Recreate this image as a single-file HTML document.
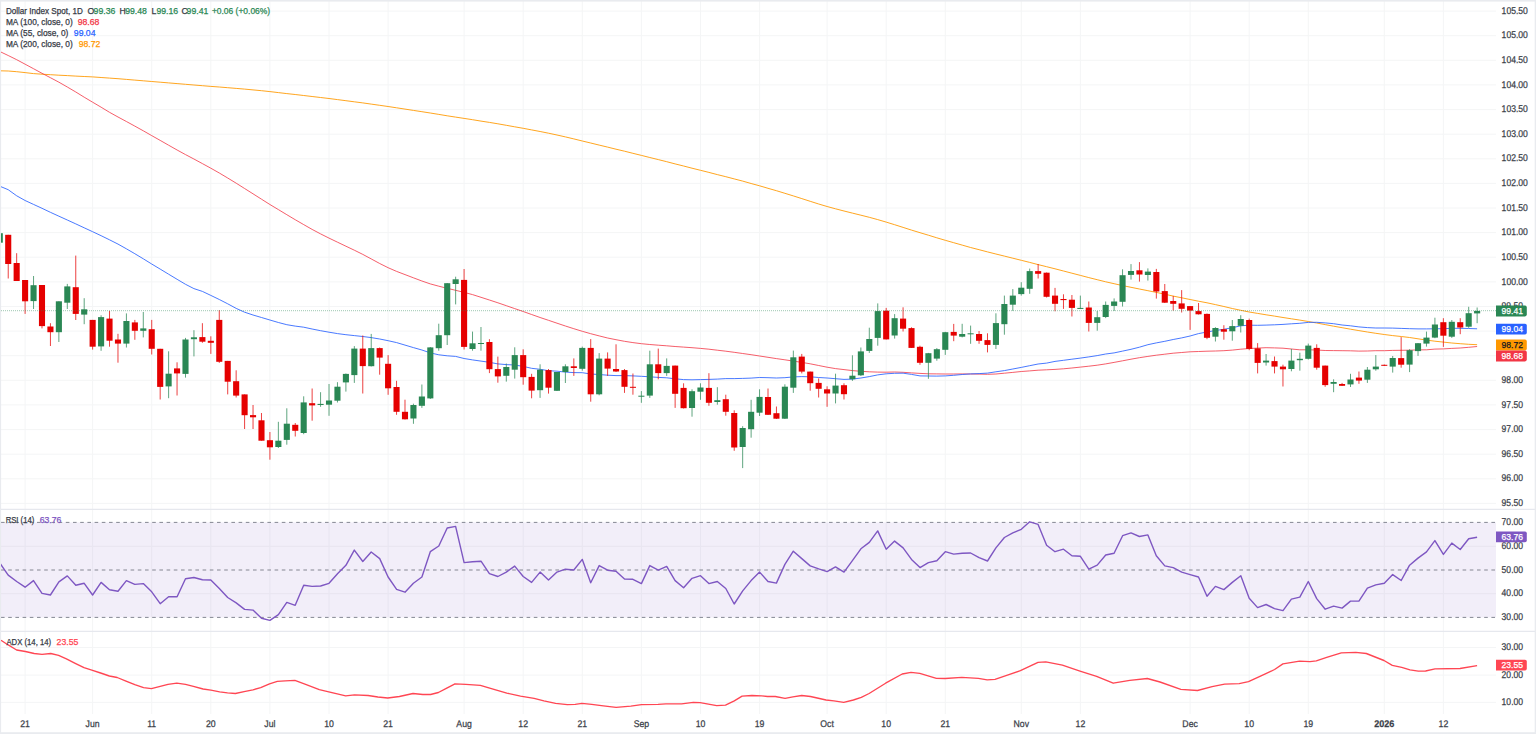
<!DOCTYPE html><html><head><meta charset="utf-8"><style>html,body{margin:0;padding:0;background:#fff;overflow:hidden}svg{display:block}text{font-family:"Liberation Sans",sans-serif}</style></head><body>
<svg width="1536" height="734" viewBox="0 0 1536 734">
<rect width="1536" height="734" fill="#fff"/>
<defs><clipPath id="cm"><rect x="1" y="1" width="1495" height="508"/></clipPath><clipPath id="cr"><rect x="1" y="510" width="1495" height="121"/></clipPath><clipPath id="ca"><rect x="1" y="632" width="1495" height="82"/></clipPath></defs>
<path d="M1 11.1H1496 M1 35.7H1496 M1 60.3H1496 M1 84.9H1496 M1 109.6H1496 M1 134.2H1496 M1 158.8H1496 M1 183.4H1496 M1 208.0H1496 M1 232.6H1496 M1 257.2H1496 M1 281.9H1496 M1 306.5H1496 M1 331.1H1496 M1 355.7H1496 M1 380.3H1496 M1 404.9H1496 M1 429.6H1496 M1 454.2H1496 M1 478.8H1496 M1 503.4H1496 M1 546.3H1496 M1 593.7H1496 M1 647.5H1496 M1 675.1H1496 M1 702.4H1496 M25.1 1V714 M92.6 1V714 M151.7 1V714 M210.8 1V714 M269.9 1V714 M329.0 1V714 M388.1 1V714 M464.1 1V714 M523.2 1V714 M582.3 1V714 M641.4 1V714 M700.5 1V714 M759.6 1V714 M827.1 1V714 M886.2 1V714 M945.3 1V714 M1021.3 1V714 M1080.4 1V714 M1190.1 1V714 M1249.2 1V714 M1308.3 1V714 M1384.3 1V714 M1443.4 1V714" stroke="#f4f5f6" stroke-width="1" fill="none"/>
<rect x="1" y="522.4" width="1495" height="95" fill="#7e57c2" fill-opacity="0.1"/>
<path d="M1 522.4H1496" stroke="#787b86" stroke-width="1" stroke-dasharray="3.6 3.6" fill="none" opacity="0.9"/>
<path d="M1 570.0H1496" stroke="#787b86" stroke-width="1" stroke-dasharray="3.6 3.6" fill="none" opacity="0.9"/>
<path d="M1 617.4H1496" stroke="#787b86" stroke-width="1" stroke-dasharray="3.6 3.6" fill="none" opacity="0.9"/>
<path d="M0 509.4H1536M0 631.4H1536" stroke="#e6e8ee" stroke-width="1.2"/>
<rect x="0" y="0" width="1536" height="1.6" fill="#e9ebef"/>
<rect x="0" y="0" width="1.1" height="734" fill="#e9ebef"/>
<rect x="1534.7" y="0" width="1.3" height="734" fill="#e9ebef"/>
<rect x="0" y="732.2" width="1536" height="1.8" fill="#e9ebef"/>
<g clip-path="url(#cm)" fill="none" stroke-linejoin="round">
<path d="M-0.2 70.8 L8.2 71.0 L16.7 71.7 L25.1 72.6 L33.5 73.6 L42.0 74.2 L50.4 74.7 L58.9 75.2 L67.3 75.6 L75.8 76.1 L84.2 76.5 L92.6 76.9 L101.1 77.5 L109.5 78.1 L118.0 78.7 L126.4 79.4 L134.8 80.1 L143.3 80.8 L151.7 81.5 L160.2 82.2 L168.6 82.9 L177.1 83.6 L185.5 84.3 L193.9 85.0 L202.4 85.7 L210.8 86.4 L219.3 87.0 L227.7 87.7 L236.2 88.4 L244.6 89.1 L253.0 89.9 L261.5 90.7 L269.9 91.6 L278.4 92.6 L286.8 93.6 L295.2 94.5 L303.7 95.5 L312.1 96.5 L320.6 97.5 L329.0 98.5 L337.5 99.6 L345.9 100.7 L354.3 101.8 L362.8 102.9 L371.2 104.1 L379.7 105.3 L388.1 106.5 L396.6 107.8 L405.0 109.1 L413.4 110.4 L421.9 111.7 L430.3 113.0 L438.8 114.4 L447.2 115.8 L455.6 117.1 L464.1 118.4 L472.5 119.7 L481.0 121.1 L489.4 122.4 L497.9 123.8 L506.3 125.3 L514.7 126.8 L523.2 128.3 L531.6 129.9 L540.1 131.5 L548.5 133.2 L557.0 135.0 L565.4 136.9 L573.8 138.9 L582.3 141.0 L590.7 143.0 L599.2 145.1 L607.6 147.1 L616.0 149.2 L624.5 151.2 L632.9 153.3 L641.4 155.4 L649.8 157.5 L658.3 159.6 L666.7 161.7 L675.1 163.9 L683.6 166.0 L692.0 168.2 L700.5 170.3 L708.9 172.4 L717.3 174.6 L725.8 176.7 L734.2 178.9 L742.7 181.1 L751.1 183.5 L759.6 185.8 L768.0 188.3 L776.4 190.7 L784.9 193.3 L793.3 195.9 L801.8 198.6 L810.2 201.3 L818.7 204.0 L827.1 206.5 L835.5 208.8 L844.0 211.0 L852.4 213.1 L860.9 215.2 L869.3 217.3 L877.7 219.6 L886.2 222.1 L894.6 224.7 L903.1 227.4 L911.5 230.1 L920.0 232.7 L928.4 235.2 L936.8 237.8 L945.3 240.3 L953.7 242.7 L962.2 245.1 L970.6 247.5 L979.1 249.7 L987.5 251.9 L995.9 254.0 L1004.4 256.1 L1012.8 258.2 L1021.3 260.3 L1029.7 262.4 L1038.1 264.6 L1046.6 266.7 L1055.0 268.8 L1063.5 271.0 L1071.9 273.2 L1080.4 275.4 L1088.8 277.6 L1097.2 279.7 L1105.7 281.8 L1114.1 283.7 L1122.6 285.6 L1131.0 287.3 L1139.4 289.0 L1147.9 290.7 L1156.3 292.4 L1164.8 294.2 L1173.2 296.1 L1181.7 297.8 L1190.1 299.5 L1198.5 301.2 L1207.0 302.8 L1215.4 304.6 L1223.9 306.5 L1232.3 308.5 L1240.8 310.3 L1249.2 312.0 L1257.6 313.4 L1266.1 314.8 L1274.5 316.1 L1283.0 317.5 L1291.4 318.8 L1299.8 320.1 L1308.3 321.5 L1316.7 323.0 L1325.2 324.6 L1333.6 326.2 L1342.1 327.7 L1350.5 329.2 L1358.9 330.6 L1367.4 332.0 L1375.8 333.3 L1384.3 334.5 L1392.7 335.6 L1401.2 336.5 L1409.6 337.5 L1418.0 338.8 L1426.5 340.1 L1434.9 341.2 L1443.4 342.1 L1451.8 343.0 L1460.2 343.7 L1468.7 344.3 L1477.1 344.7" stroke="#ff9800" stroke-width="1" opacity="0.88"/>
<path d="M-0.2 51.5 L8.2 55.5 L16.7 59.7 L25.1 64.2 L33.5 68.7 L42.0 73.3 L50.4 77.7 L58.9 82.2 L67.3 87.0 L75.8 92.0 L84.2 97.2 L92.6 102.2 L101.1 107.2 L109.5 112.3 L118.0 117.0 L126.4 121.5 L134.8 126.1 L143.3 130.8 L151.7 135.6 L160.2 140.4 L168.6 145.2 L177.1 150.0 L185.5 154.6 L193.9 159.0 L202.4 163.6 L210.8 168.2 L219.3 173.0 L227.7 178.0 L236.2 183.2 L244.6 188.5 L253.0 193.8 L261.5 199.2 L269.9 204.5 L278.4 209.6 L286.8 214.7 L295.2 219.7 L303.7 224.6 L312.1 229.4 L320.6 233.9 L329.0 238.1 L337.5 242.2 L345.9 246.2 L354.3 250.2 L362.8 254.4 L371.2 258.9 L379.7 263.5 L388.1 267.7 L396.6 271.4 L405.0 274.6 L413.4 277.8 L421.9 281.0 L430.3 283.9 L438.8 286.2 L447.2 288.3 L455.6 290.3 L464.1 292.4 L472.5 294.6 L481.0 297.3 L489.4 300.0 L497.9 302.8 L506.3 305.7 L514.7 308.6 L523.2 311.5 L531.6 314.5 L540.1 317.5 L548.5 320.3 L557.0 323.2 L565.4 326.0 L573.8 328.7 L582.3 331.3 L590.7 333.7 L599.2 335.9 L607.6 338.0 L616.0 339.7 L624.5 341.3 L632.9 342.6 L641.4 343.7 L649.8 344.5 L658.3 345.2 L666.7 345.8 L675.1 346.5 L683.6 347.1 L692.0 347.7 L700.5 348.4 L708.9 349.2 L717.3 350.2 L725.8 351.2 L734.2 352.3 L742.7 353.5 L751.1 354.7 L759.6 356.0 L768.0 357.3 L776.4 358.6 L784.9 359.8 L793.3 361.1 L801.8 362.4 L810.2 363.8 L818.7 365.5 L827.1 367.2 L835.5 368.6 L844.0 369.6 L852.4 370.6 L860.9 371.3 L869.3 371.8 L877.7 372.1 L886.2 372.2 L894.6 372.0 L903.1 372.3 L911.5 372.9 L920.0 373.4 L928.4 373.8 L936.8 373.9 L945.3 374.0 L953.7 374.0 L962.2 373.9 L970.6 374.0 L979.1 374.1 L987.5 374.3 L995.9 374.0 L1004.4 373.2 L1012.8 372.4 L1021.3 371.5 L1029.7 370.9 L1038.1 370.2 L1046.6 369.8 L1055.0 369.4 L1063.5 368.8 L1071.9 368.0 L1080.4 367.1 L1088.8 366.2 L1097.2 365.2 L1105.7 363.9 L1114.1 362.4 L1122.6 360.8 L1131.0 359.2 L1139.4 357.7 L1147.9 356.4 L1156.3 355.2 L1164.8 354.2 L1173.2 353.2 L1181.7 352.5 L1190.1 351.8 L1198.5 351.5 L1207.0 351.2 L1215.4 351.0 L1223.9 350.7 L1232.3 350.1 L1240.8 349.2 L1249.2 348.5 L1257.6 348.1 L1266.1 347.7 L1274.5 347.9 L1283.0 348.2 L1291.4 349.0 L1299.8 349.8 L1308.3 349.8 L1316.7 350.0 L1325.2 350.5 L1333.6 350.6 L1342.1 350.7 L1350.5 350.8 L1358.9 351.1 L1367.4 351.0 L1375.8 350.7 L1384.3 350.7 L1392.7 350.4 L1401.2 350.3 L1409.6 350.2 L1418.0 349.9 L1426.5 349.8 L1434.9 349.1 L1443.4 348.9 L1451.8 348.4 L1460.2 348.0 L1468.7 347.3 L1477.1 346.5" stroke="#f23645" stroke-width="1" opacity="0.8"/>
<path d="M-0.2 186.2 L8.2 189.7 L16.7 195.8 L25.1 200.5 L33.5 204.4 L42.0 208.3 L50.4 212.3 L58.9 216.2 L67.3 220.0 L75.8 223.9 L84.2 227.8 L92.6 231.7 L101.1 235.7 L109.5 239.8 L118.0 244.1 L126.4 248.8 L134.8 253.7 L143.3 258.8 L151.7 264.0 L160.2 269.1 L168.6 274.2 L177.1 279.3 L185.5 284.3 L193.9 288.6 L202.4 291.4 L210.8 295.4 L219.3 299.5 L227.7 303.8 L236.2 308.4 L244.6 312.2 L253.0 315.0 L261.5 317.5 L269.9 320.0 L278.4 322.5 L286.8 324.7 L295.2 326.1 L303.7 327.2 L312.1 329.0 L320.6 330.7 L329.0 332.2 L337.5 333.6 L345.9 334.7 L354.3 335.6 L362.8 336.5 L371.2 337.6 L379.7 339.0 L388.1 340.7 L396.6 342.6 L405.0 345.1 L413.4 347.6 L421.9 350.0 L430.3 352.9 L438.8 354.8 L447.2 355.8 L455.6 356.4 L464.1 358.5 L472.5 359.9 L481.0 361.1 L489.4 362.3 L497.9 363.9 L506.3 364.6 L514.7 365.0 L523.2 366.4 L531.6 368.3 L540.1 369.3 L548.5 370.7 L557.0 371.2 L565.4 372.1 L573.8 372.6 L582.3 372.7 L590.7 374.0 L599.2 374.5 L607.6 375.2 L616.0 375.6 L624.5 375.6 L632.9 375.9 L641.4 376.3 L649.8 376.8 L658.3 377.4 L666.7 377.8 L675.1 378.8 L683.6 379.6 L692.0 379.8 L700.5 379.6 L708.9 379.4 L717.3 379.1 L725.8 378.6 L734.2 378.6 L742.7 378.4 L751.1 378.1 L759.6 377.5 L768.0 377.7 L776.4 378.0 L784.9 377.7 L793.3 376.9 L801.8 376.6 L810.2 376.8 L818.7 377.5 L827.1 378.0 L835.5 378.7 L844.0 379.4 L852.4 379.1 L860.9 378.0 L869.3 376.6 L877.7 374.9 L886.2 373.8 L894.6 373.3 L903.1 373.2 L911.5 374.4 L920.0 375.9 L928.4 376.0 L936.8 376.1 L945.3 375.9 L953.7 375.3 L962.2 374.5 L970.6 373.9 L979.1 373.6 L987.5 373.1 L995.9 371.8 L1004.4 370.6 L1012.8 369.0 L1021.3 367.4 L1029.7 365.7 L1038.1 364.0 L1046.6 363.1 L1055.0 361.4 L1063.5 360.3 L1071.9 359.2 L1080.4 358.1 L1088.8 356.9 L1097.2 355.6 L1105.7 354.0 L1114.1 352.9 L1122.6 351.1 L1131.0 349.3 L1139.4 347.2 L1147.9 344.7 L1156.3 342.9 L1164.8 341.3 L1173.2 339.5 L1181.7 337.9 L1190.1 336.0 L1198.5 333.6 L1207.0 332.0 L1215.4 330.5 L1223.9 329.3 L1232.3 327.7 L1240.8 325.8 L1249.2 325.2 L1257.6 325.3 L1266.1 325.1 L1274.5 324.8 L1283.0 324.4 L1291.4 323.8 L1299.8 323.3 L1308.3 322.4 L1316.7 322.3 L1325.2 322.9 L1333.6 323.7 L1342.1 325.0 L1350.5 325.8 L1358.9 326.9 L1367.4 327.6 L1375.8 328.0 L1384.3 328.0 L1392.7 328.1 L1401.2 328.4 L1409.6 328.7 L1418.0 328.9 L1426.5 328.9 L1434.9 328.8 L1443.4 328.7 L1451.8 328.3 L1460.2 328.3 L1468.7 328.5 L1477.1 328.8" stroke="#2962ff" stroke-width="1" opacity="0.85"/>
</g>
<g clip-path="url(#cm)">
<path d="M-0.22 231.0V245.0" stroke="#2a8754" stroke-width="0.75"/>
<rect x="-3.27" y="233.2" width="6.1" height="9.5" fill="#2a8754"/>
<path d="M8.22 234.8V278.5" stroke="#e50000" stroke-width="0.75"/>
<rect x="5.17" y="234.8" width="6.1" height="29.2" fill="#e50000"/>
<path d="M16.66 253.2V281.0" stroke="#e50000" stroke-width="0.75"/>
<rect x="13.61" y="263.0" width="6.1" height="18.0" fill="#e50000"/>
<path d="M25.10 280.0V313.9" stroke="#e50000" stroke-width="0.75"/>
<rect x="22.05" y="280.0" width="6.1" height="21.3" fill="#e50000"/>
<path d="M33.55 276.0V309.0" stroke="#2a8754" stroke-width="0.75"/>
<rect x="30.50" y="285.2" width="6.1" height="15.9" fill="#2a8754"/>
<path d="M41.99 285.0V328.4" stroke="#e50000" stroke-width="0.75"/>
<rect x="38.94" y="285.0" width="6.1" height="41.1" fill="#e50000"/>
<path d="M50.43 323.2V346.0" stroke="#e50000" stroke-width="0.75"/>
<rect x="47.38" y="326.5" width="6.1" height="5.7" fill="#e50000"/>
<path d="M58.87 301.3V342.0" stroke="#2a8754" stroke-width="0.75"/>
<rect x="55.82" y="301.3" width="6.1" height="30.9" fill="#2a8754"/>
<path d="M67.31 283.9V309.0" stroke="#2a8754" stroke-width="0.75"/>
<rect x="64.26" y="286.4" width="6.1" height="16.3" fill="#2a8754"/>
<path d="M75.76 255.6V320.0" stroke="#e50000" stroke-width="0.75"/>
<rect x="72.71" y="287.2" width="6.1" height="26.7" fill="#e50000"/>
<path d="M84.20 298.2V324.2" stroke="#2a8754" stroke-width="0.75"/>
<rect x="81.15" y="309.3" width="6.1" height="5.3" fill="#2a8754"/>
<path d="M92.64 319.9V349.6" stroke="#e50000" stroke-width="0.75"/>
<rect x="89.59" y="319.9" width="6.1" height="26.8" fill="#e50000"/>
<path d="M101.08 315.3V350.8" stroke="#2a8754" stroke-width="0.75"/>
<rect x="98.03" y="317.1" width="6.1" height="29.3" fill="#2a8754"/>
<path d="M109.52 310.9V346.7" stroke="#e50000" stroke-width="0.75"/>
<rect x="106.47" y="318.6" width="6.1" height="22.1" fill="#e50000"/>
<path d="M117.97 333.8V362.7" stroke="#e50000" stroke-width="0.75"/>
<rect x="114.92" y="339.5" width="6.1" height="4.1" fill="#e50000"/>
<path d="M126.41 313.4V347.5" stroke="#2a8754" stroke-width="0.75"/>
<rect x="123.36" y="321.0" width="6.1" height="22.6" fill="#2a8754"/>
<path d="M134.85 319.9V339.8" stroke="#e50000" stroke-width="0.75"/>
<rect x="131.80" y="322.4" width="6.1" height="8.4" fill="#e50000"/>
<path d="M143.29 312.0V337.4" stroke="#2a8754" stroke-width="0.75"/>
<rect x="140.24" y="328.4" width="6.1" height="2.4" fill="#2a8754"/>
<path d="M151.73 319.9V354.5" stroke="#e50000" stroke-width="0.75"/>
<rect x="148.68" y="329.2" width="6.1" height="19.6" fill="#e50000"/>
<path d="M160.18 348.8V399.5" stroke="#e50000" stroke-width="0.75"/>
<rect x="157.13" y="348.8" width="6.1" height="38.1" fill="#e50000"/>
<path d="M168.62 351.3V398.2" stroke="#2a8754" stroke-width="0.75"/>
<rect x="165.57" y="373.7" width="6.1" height="12.7" fill="#2a8754"/>
<path d="M177.06 362.3V395.5" stroke="#e50000" stroke-width="0.75"/>
<rect x="174.01" y="368.4" width="6.1" height="5.0" fill="#e50000"/>
<path d="M185.50 337.9V377.6" stroke="#2a8754" stroke-width="0.75"/>
<rect x="182.45" y="339.5" width="6.1" height="34.4" fill="#2a8754"/>
<path d="M193.94 330.2V356.4" stroke="#2a8754" stroke-width="0.75"/>
<rect x="190.89" y="337.3" width="6.1" height="1.9" fill="#2a8754"/>
<path d="M202.39 323.2V342.8" stroke="#e50000" stroke-width="0.75"/>
<rect x="199.34" y="337.1" width="6.1" height="4.6" fill="#e50000"/>
<path d="M210.83 336.3V353.9" stroke="#e50000" stroke-width="0.75"/>
<rect x="207.78" y="340.8" width="6.1" height="2.0" fill="#e50000"/>
<path d="M219.27 310.1V362.9" stroke="#e50000" stroke-width="0.75"/>
<rect x="216.22" y="319.9" width="6.1" height="41.9" fill="#e50000"/>
<path d="M227.71 360.9V394.4" stroke="#e50000" stroke-width="0.75"/>
<rect x="224.66" y="360.9" width="6.1" height="20.8" fill="#e50000"/>
<path d="M236.15 370.3V397.5" stroke="#e50000" stroke-width="0.75"/>
<rect x="233.10" y="381.2" width="6.1" height="14.4" fill="#e50000"/>
<path d="M244.60 394.4V429.0" stroke="#e50000" stroke-width="0.75"/>
<rect x="241.55" y="394.4" width="6.1" height="20.8" fill="#e50000"/>
<path d="M253.04 405.0V429.0" stroke="#e50000" stroke-width="0.75"/>
<rect x="249.99" y="415.1" width="6.1" height="2.2" fill="#e50000"/>
<path d="M261.48 413.0V440.7" stroke="#e50000" stroke-width="0.75"/>
<rect x="258.43" y="420.3" width="6.1" height="20.4" fill="#e50000"/>
<path d="M269.92 432.0V459.7" stroke="#e50000" stroke-width="0.75"/>
<rect x="266.87" y="440.2" width="6.1" height="7.1" fill="#e50000"/>
<path d="M278.36 421.8V448.0" stroke="#2a8754" stroke-width="0.75"/>
<rect x="275.31" y="440.7" width="6.1" height="6.3" fill="#2a8754"/>
<path d="M286.81 408.3V444.7" stroke="#2a8754" stroke-width="0.75"/>
<rect x="283.76" y="423.7" width="6.1" height="16.2" fill="#2a8754"/>
<path d="M295.25 423.0V436.5" stroke="#e50000" stroke-width="0.75"/>
<rect x="292.20" y="424.8" width="6.1" height="6.0" fill="#e50000"/>
<path d="M303.69 396.3V434.2" stroke="#2a8754" stroke-width="0.75"/>
<rect x="300.64" y="402.4" width="6.1" height="30.6" fill="#2a8754"/>
<path d="M312.13 388.5V420.7" stroke="#e50000" stroke-width="0.75"/>
<rect x="309.08" y="403.2" width="6.1" height="2.2" fill="#e50000"/>
<path d="M320.57 392.2V406.8" stroke="#2a8754" stroke-width="0.75"/>
<rect x="317.52" y="403.9" width="6.1" height="1.1" fill="#2a8754"/>
<path d="M329.02 384.0V415.8" stroke="#2a8754" stroke-width="0.75"/>
<rect x="325.97" y="400.5" width="6.1" height="4.2" fill="#2a8754"/>
<path d="M337.46 382.2V402.5" stroke="#2a8754" stroke-width="0.75"/>
<rect x="334.41" y="386.7" width="6.1" height="14.0" fill="#2a8754"/>
<path d="M345.90 373.5V391.6" stroke="#2a8754" stroke-width="0.75"/>
<rect x="342.85" y="373.9" width="6.1" height="8.5" fill="#2a8754"/>
<path d="M354.34 346.1V382.9" stroke="#2a8754" stroke-width="0.75"/>
<rect x="351.29" y="348.6" width="6.1" height="26.5" fill="#2a8754"/>
<path d="M362.78 335.5V393.5" stroke="#e50000" stroke-width="0.75"/>
<rect x="359.73" y="348.6" width="6.1" height="17.5" fill="#e50000"/>
<path d="M371.23 333.9V366.5" stroke="#2a8754" stroke-width="0.75"/>
<rect x="368.18" y="348.1" width="6.1" height="18.1" fill="#2a8754"/>
<path d="M379.67 347.5V374.7" stroke="#e50000" stroke-width="0.75"/>
<rect x="376.62" y="348.1" width="6.1" height="9.5" fill="#e50000"/>
<path d="M388.11 355.1V394.8" stroke="#e50000" stroke-width="0.75"/>
<rect x="385.06" y="363.8" width="6.1" height="24.5" fill="#e50000"/>
<path d="M396.55 380.8V414.8" stroke="#e50000" stroke-width="0.75"/>
<rect x="393.50" y="387.0" width="6.1" height="24.8" fill="#e50000"/>
<path d="M404.99 399.7V419.5" stroke="#e50000" stroke-width="0.75"/>
<rect x="401.94" y="411.8" width="6.1" height="7.5" fill="#e50000"/>
<path d="M413.44 403.7V423.8" stroke="#2a8754" stroke-width="0.75"/>
<rect x="410.39" y="405.0" width="6.1" height="13.5" fill="#2a8754"/>
<path d="M421.88 384.5V407.9" stroke="#2a8754" stroke-width="0.75"/>
<rect x="418.83" y="396.5" width="6.1" height="9.3" fill="#2a8754"/>
<path d="M430.32 347.0V399.0" stroke="#2a8754" stroke-width="0.75"/>
<rect x="427.27" y="347.4" width="6.1" height="51.0" fill="#2a8754"/>
<path d="M438.76 323.7V350.7" stroke="#2a8754" stroke-width="0.75"/>
<rect x="435.71" y="335.2" width="6.1" height="13.0" fill="#2a8754"/>
<path d="M447.20 283.0V345.0" stroke="#2a8754" stroke-width="0.75"/>
<rect x="444.15" y="283.2" width="6.1" height="52.0" fill="#2a8754"/>
<path d="M455.65 276.7V304.4" stroke="#2a8754" stroke-width="0.75"/>
<rect x="452.60" y="279.3" width="6.1" height="4.7" fill="#2a8754"/>
<path d="M464.09 269.0V349.5" stroke="#e50000" stroke-width="0.75"/>
<rect x="461.04" y="279.9" width="6.1" height="67.0" fill="#e50000"/>
<path d="M472.53 331.6V350.7" stroke="#2a8754" stroke-width="0.75"/>
<rect x="469.48" y="343.3" width="6.1" height="5.7" fill="#2a8754"/>
<path d="M480.97 327.0V350.7" stroke="#2a8754" stroke-width="0.75"/>
<rect x="477.92" y="343.0" width="6.1" height="1.0" fill="#2a8754"/>
<path d="M489.41 339.2V373.1" stroke="#e50000" stroke-width="0.75"/>
<rect x="486.36" y="342.0" width="6.1" height="27.2" fill="#e50000"/>
<path d="M497.86 356.6V382.7" stroke="#e50000" stroke-width="0.75"/>
<rect x="494.81" y="369.1" width="6.1" height="7.3" fill="#e50000"/>
<path d="M506.30 363.5V381.6" stroke="#2a8754" stroke-width="0.75"/>
<rect x="503.25" y="367.0" width="6.1" height="8.8" fill="#2a8754"/>
<path d="M514.74 347.3V378.6" stroke="#2a8754" stroke-width="0.75"/>
<rect x="511.69" y="355.1" width="6.1" height="14.6" fill="#2a8754"/>
<path d="M523.18 349.3V384.7" stroke="#e50000" stroke-width="0.75"/>
<rect x="520.13" y="355.1" width="6.1" height="22.1" fill="#e50000"/>
<path d="M531.62 373.8V398.3" stroke="#e50000" stroke-width="0.75"/>
<rect x="528.57" y="376.9" width="6.1" height="13.7" fill="#e50000"/>
<path d="M540.07 364.3V397.9" stroke="#2a8754" stroke-width="0.75"/>
<rect x="537.02" y="369.7" width="6.1" height="20.5" fill="#2a8754"/>
<path d="M548.51 369.0V393.6" stroke="#e50000" stroke-width="0.75"/>
<rect x="545.46" y="370.1" width="6.1" height="17.6" fill="#e50000"/>
<path d="M556.95 372.0V391.0" stroke="#2a8754" stroke-width="0.75"/>
<rect x="553.90" y="372.0" width="6.1" height="18.8" fill="#2a8754"/>
<path d="M565.39 364.3V383.0" stroke="#2a8754" stroke-width="0.75"/>
<rect x="562.34" y="366.3" width="6.1" height="5.7" fill="#2a8754"/>
<path d="M573.83 358.4V375.9" stroke="#e50000" stroke-width="0.75"/>
<rect x="570.78" y="366.3" width="6.1" height="1.7" fill="#e50000"/>
<path d="M582.28 346.6V370.7" stroke="#2a8754" stroke-width="0.75"/>
<rect x="579.23" y="347.9" width="6.1" height="20.9" fill="#2a8754"/>
<path d="M590.72 339.1V401.7" stroke="#e50000" stroke-width="0.75"/>
<rect x="587.67" y="347.9" width="6.1" height="46.4" fill="#e50000"/>
<path d="M599.16 353.1V395.3" stroke="#2a8754" stroke-width="0.75"/>
<rect x="596.11" y="358.6" width="6.1" height="35.7" fill="#2a8754"/>
<path d="M607.60 352.4V375.9" stroke="#e50000" stroke-width="0.75"/>
<rect x="604.55" y="358.6" width="6.1" height="10.0" fill="#e50000"/>
<path d="M616.04 344.3V372.0" stroke="#e50000" stroke-width="0.75"/>
<rect x="612.99" y="369.0" width="6.1" height="2.5" fill="#e50000"/>
<path d="M624.49 369.0V392.9" stroke="#e50000" stroke-width="0.75"/>
<rect x="621.44" y="370.1" width="6.1" height="16.7" fill="#e50000"/>
<path d="M632.93 373.5V394.7" stroke="#e50000" stroke-width="0.75"/>
<rect x="629.88" y="386.8" width="6.1" height="1.0" fill="#e50000"/>
<path d="M641.37 391.1V402.8" stroke="#2a8754" stroke-width="0.75"/>
<rect x="638.32" y="395.7" width="6.1" height="1.0" fill="#2a8754"/>
<path d="M649.81 350.7V397.9" stroke="#2a8754" stroke-width="0.75"/>
<rect x="646.76" y="364.3" width="6.1" height="31.3" fill="#2a8754"/>
<path d="M658.25 348.6V379.3" stroke="#e50000" stroke-width="0.75"/>
<rect x="655.20" y="364.3" width="6.1" height="8.8" fill="#e50000"/>
<path d="M666.70 358.4V375.9" stroke="#2a8754" stroke-width="0.75"/>
<rect x="663.65" y="365.9" width="6.1" height="7.2" fill="#2a8754"/>
<path d="M675.14 365.6V407.9" stroke="#e50000" stroke-width="0.75"/>
<rect x="672.09" y="365.6" width="6.1" height="28.2" fill="#e50000"/>
<path d="M683.58 383.3V408.5" stroke="#e50000" stroke-width="0.75"/>
<rect x="680.53" y="387.9" width="6.1" height="20.3" fill="#e50000"/>
<path d="M692.02 389.3V416.7" stroke="#2a8754" stroke-width="0.75"/>
<rect x="688.97" y="391.2" width="6.1" height="16.8" fill="#2a8754"/>
<path d="M700.46 383.3V399.8" stroke="#2a8754" stroke-width="0.75"/>
<rect x="697.41" y="387.5" width="6.1" height="4.2" fill="#2a8754"/>
<path d="M708.91 373.2V405.8" stroke="#e50000" stroke-width="0.75"/>
<rect x="705.86" y="387.9" width="6.1" height="14.9" fill="#e50000"/>
<path d="M717.35 387.2V404.7" stroke="#2a8754" stroke-width="0.75"/>
<rect x="714.30" y="400.2" width="6.1" height="1.8" fill="#2a8754"/>
<path d="M725.79 394.7V415.7" stroke="#e50000" stroke-width="0.75"/>
<rect x="722.74" y="399.2" width="6.1" height="12.6" fill="#e50000"/>
<path d="M734.23 410.3V450.8" stroke="#e50000" stroke-width="0.75"/>
<rect x="731.18" y="413.0" width="6.1" height="34.5" fill="#e50000"/>
<path d="M742.67 426.2V468.1" stroke="#2a8754" stroke-width="0.75"/>
<rect x="739.62" y="428.0" width="6.1" height="19.0" fill="#2a8754"/>
<path d="M751.12 399.8V437.7" stroke="#2a8754" stroke-width="0.75"/>
<rect x="748.07" y="411.8" width="6.1" height="17.4" fill="#2a8754"/>
<path d="M759.56 389.3V416.0" stroke="#2a8754" stroke-width="0.75"/>
<rect x="756.51" y="396.9" width="6.1" height="15.8" fill="#2a8754"/>
<path d="M768.00 388.5V415.0" stroke="#e50000" stroke-width="0.75"/>
<rect x="764.95" y="397.0" width="6.1" height="17.8" fill="#e50000"/>
<path d="M776.44 406.5V419.0" stroke="#e50000" stroke-width="0.75"/>
<rect x="773.39" y="413.2" width="6.1" height="5.5" fill="#e50000"/>
<path d="M784.88 384.3V419.0" stroke="#2a8754" stroke-width="0.75"/>
<rect x="781.83" y="386.7" width="6.1" height="32.0" fill="#2a8754"/>
<path d="M793.33 350.6V392.9" stroke="#2a8754" stroke-width="0.75"/>
<rect x="790.28" y="357.3" width="6.1" height="30.4" fill="#2a8754"/>
<path d="M801.77 353.9V373.4" stroke="#e50000" stroke-width="0.75"/>
<rect x="798.72" y="356.6" width="6.1" height="15.0" fill="#e50000"/>
<path d="M810.21 371.6V390.7" stroke="#e50000" stroke-width="0.75"/>
<rect x="807.16" y="371.6" width="6.1" height="11.6" fill="#e50000"/>
<path d="M818.65 378.4V397.5" stroke="#e50000" stroke-width="0.75"/>
<rect x="815.60" y="382.9" width="6.1" height="5.9" fill="#e50000"/>
<path d="M827.09 386.3V406.8" stroke="#e50000" stroke-width="0.75"/>
<rect x="824.04" y="389.3" width="6.1" height="4.2" fill="#e50000"/>
<path d="M835.54 373.7V403.4" stroke="#2a8754" stroke-width="0.75"/>
<rect x="832.49" y="385.6" width="6.1" height="7.9" fill="#2a8754"/>
<path d="M843.98 383.3V399.5" stroke="#e50000" stroke-width="0.75"/>
<rect x="840.93" y="385.2" width="6.1" height="9.0" fill="#e50000"/>
<path d="M852.42 355.3V380.9" stroke="#2a8754" stroke-width="0.75"/>
<rect x="849.37" y="375.7" width="6.1" height="3.5" fill="#2a8754"/>
<path d="M860.86 347.5V376.0" stroke="#2a8754" stroke-width="0.75"/>
<rect x="857.81" y="351.4" width="6.1" height="23.9" fill="#2a8754"/>
<path d="M869.30 327.7V352.9" stroke="#2a8754" stroke-width="0.75"/>
<rect x="866.25" y="339.0" width="6.1" height="11.9" fill="#2a8754"/>
<path d="M877.75 303.4V345.7" stroke="#2a8754" stroke-width="0.75"/>
<rect x="874.70" y="311.1" width="6.1" height="26.8" fill="#2a8754"/>
<path d="M886.19 307.9V339.5" stroke="#e50000" stroke-width="0.75"/>
<rect x="883.14" y="310.7" width="6.1" height="28.7" fill="#e50000"/>
<path d="M894.63 314.1V338.6" stroke="#2a8754" stroke-width="0.75"/>
<rect x="891.58" y="318.2" width="6.1" height="17.3" fill="#2a8754"/>
<path d="M903.07 307.3V331.5" stroke="#e50000" stroke-width="0.75"/>
<rect x="900.02" y="318.6" width="6.1" height="10.1" fill="#e50000"/>
<path d="M911.51 327.3V348.0" stroke="#e50000" stroke-width="0.75"/>
<rect x="908.46" y="328.1" width="6.1" height="19.8" fill="#e50000"/>
<path d="M919.96 345.7V364.8" stroke="#e50000" stroke-width="0.75"/>
<rect x="916.91" y="346.8" width="6.1" height="16.0" fill="#e50000"/>
<path d="M928.40 352.9V378.8" stroke="#2a8754" stroke-width="0.75"/>
<rect x="925.35" y="353.2" width="6.1" height="9.6" fill="#2a8754"/>
<path d="M936.84 348.1V360.7" stroke="#2a8754" stroke-width="0.75"/>
<rect x="933.79" y="349.2" width="6.1" height="9.4" fill="#2a8754"/>
<path d="M945.28 331.8V354.9" stroke="#2a8754" stroke-width="0.75"/>
<rect x="942.23" y="332.2" width="6.1" height="17.6" fill="#2a8754"/>
<path d="M953.72 323.9V341.2" stroke="#e50000" stroke-width="0.75"/>
<rect x="950.67" y="331.9" width="6.1" height="3.7" fill="#e50000"/>
<path d="M962.17 323.8V337.4" stroke="#2a8754" stroke-width="0.75"/>
<rect x="959.12" y="334.0" width="6.1" height="2.7" fill="#2a8754"/>
<path d="M970.61 325.6V343.8" stroke="#2a8754" stroke-width="0.75"/>
<rect x="967.56" y="333.3" width="6.1" height="1.0" fill="#2a8754"/>
<path d="M979.05 331.0V343.8" stroke="#e50000" stroke-width="0.75"/>
<rect x="976.00" y="334.0" width="6.1" height="6.8" fill="#e50000"/>
<path d="M987.49 333.3V352.4" stroke="#e50000" stroke-width="0.75"/>
<rect x="984.44" y="340.1" width="6.1" height="4.8" fill="#e50000"/>
<path d="M995.93 313.3V349.0" stroke="#2a8754" stroke-width="0.75"/>
<rect x="992.88" y="323.1" width="6.1" height="21.8" fill="#2a8754"/>
<path d="M1004.38 295.6V334.7" stroke="#2a8754" stroke-width="0.75"/>
<rect x="1001.33" y="304.0" width="6.1" height="20.2" fill="#2a8754"/>
<path d="M1012.82 289.1V310.9" stroke="#2a8754" stroke-width="0.75"/>
<rect x="1009.77" y="295.6" width="6.1" height="9.1" fill="#2a8754"/>
<path d="M1021.26 282.2V295.6" stroke="#2a8754" stroke-width="0.75"/>
<rect x="1018.21" y="287.7" width="6.1" height="6.4" fill="#2a8754"/>
<path d="M1029.70 268.6V293.8" stroke="#2a8754" stroke-width="0.75"/>
<rect x="1026.65" y="271.1" width="6.1" height="17.7" fill="#2a8754"/>
<path d="M1038.14 264.0V278.5" stroke="#e50000" stroke-width="0.75"/>
<rect x="1035.09" y="271.1" width="6.1" height="2.7" fill="#e50000"/>
<path d="M1046.59 272.5V297.5" stroke="#e50000" stroke-width="0.75"/>
<rect x="1043.54" y="272.7" width="6.1" height="24.1" fill="#e50000"/>
<path d="M1055.03 287.9V311.3" stroke="#e50000" stroke-width="0.75"/>
<rect x="1051.98" y="295.6" width="6.1" height="8.2" fill="#e50000"/>
<path d="M1063.47 294.3V308.9" stroke="#e50000" stroke-width="0.75"/>
<rect x="1060.42" y="299.0" width="6.1" height="1.1" fill="#e50000"/>
<path d="M1071.91 295.0V316.5" stroke="#e50000" stroke-width="0.75"/>
<rect x="1068.86" y="299.7" width="6.1" height="8.2" fill="#e50000"/>
<path d="M1080.35 295.6V309.0" stroke="#2a8754" stroke-width="0.75"/>
<rect x="1077.30" y="307.9" width="6.1" height="1.0" fill="#2a8754"/>
<path d="M1088.80 301.5V331.5" stroke="#e50000" stroke-width="0.75"/>
<rect x="1085.75" y="307.5" width="6.1" height="15.4" fill="#e50000"/>
<path d="M1097.24 311.0V330.7" stroke="#2a8754" stroke-width="0.75"/>
<rect x="1094.19" y="317.2" width="6.1" height="5.7" fill="#2a8754"/>
<path d="M1105.68 301.5V318.1" stroke="#2a8754" stroke-width="0.75"/>
<rect x="1102.63" y="304.9" width="6.1" height="12.1" fill="#2a8754"/>
<path d="M1114.12 298.4V311.0" stroke="#2a8754" stroke-width="0.75"/>
<rect x="1111.07" y="301.5" width="6.1" height="4.4" fill="#2a8754"/>
<path d="M1122.56 269.3V306.5" stroke="#2a8754" stroke-width="0.75"/>
<rect x="1119.51" y="275.2" width="6.1" height="26.6" fill="#2a8754"/>
<path d="M1131.01 264.1V279.6" stroke="#2a8754" stroke-width="0.75"/>
<rect x="1127.96" y="271.0" width="6.1" height="3.9" fill="#2a8754"/>
<path d="M1139.45 262.1V281.6" stroke="#e50000" stroke-width="0.75"/>
<rect x="1136.40" y="270.3" width="6.1" height="4.2" fill="#e50000"/>
<path d="M1147.89 268.4V280.6" stroke="#2a8754" stroke-width="0.75"/>
<rect x="1144.84" y="271.6" width="6.1" height="3.4" fill="#2a8754"/>
<path d="M1156.33 268.9V298.6" stroke="#e50000" stroke-width="0.75"/>
<rect x="1153.28" y="272.0" width="6.1" height="19.5" fill="#e50000"/>
<path d="M1164.77 284.0V303.0" stroke="#e50000" stroke-width="0.75"/>
<rect x="1161.72" y="291.1" width="6.1" height="11.6" fill="#e50000"/>
<path d="M1173.22 295.9V310.6" stroke="#e50000" stroke-width="0.75"/>
<rect x="1170.17" y="301.0" width="6.1" height="2.8" fill="#e50000"/>
<path d="M1181.66 290.1V312.5" stroke="#e50000" stroke-width="0.75"/>
<rect x="1178.61" y="303.4" width="6.1" height="5.4" fill="#e50000"/>
<path d="M1190.10 306.0V329.9" stroke="#e50000" stroke-width="0.75"/>
<rect x="1187.05" y="306.1" width="6.1" height="4.5" fill="#e50000"/>
<path d="M1198.54 303.0V314.5" stroke="#e50000" stroke-width="0.75"/>
<rect x="1195.49" y="311.1" width="6.1" height="3.2" fill="#e50000"/>
<path d="M1206.98 313.5V339.2" stroke="#e50000" stroke-width="0.75"/>
<rect x="1203.93" y="313.9" width="6.1" height="23.9" fill="#e50000"/>
<path d="M1215.43 327.2V341.5" stroke="#2a8754" stroke-width="0.75"/>
<rect x="1212.38" y="328.0" width="6.1" height="8.7" fill="#2a8754"/>
<path d="M1223.87 325.2V339.7" stroke="#e50000" stroke-width="0.75"/>
<rect x="1220.82" y="329.2" width="6.1" height="2.5" fill="#e50000"/>
<path d="M1232.31 320.0V340.7" stroke="#2a8754" stroke-width="0.75"/>
<rect x="1229.26" y="326.1" width="6.1" height="5.2" fill="#2a8754"/>
<path d="M1240.75 315.2V332.5" stroke="#2a8754" stroke-width="0.75"/>
<rect x="1237.70" y="319.0" width="6.1" height="6.8" fill="#2a8754"/>
<path d="M1249.19 318.6V350.2" stroke="#e50000" stroke-width="0.75"/>
<rect x="1246.14" y="320.0" width="6.1" height="28.9" fill="#e50000"/>
<path d="M1257.64 343.1V373.4" stroke="#e50000" stroke-width="0.75"/>
<rect x="1254.59" y="348.3" width="6.1" height="14.6" fill="#e50000"/>
<path d="M1266.08 354.0V365.6" stroke="#2a8754" stroke-width="0.75"/>
<rect x="1263.03" y="360.6" width="6.1" height="1.9" fill="#2a8754"/>
<path d="M1274.52 356.5V373.4" stroke="#e50000" stroke-width="0.75"/>
<rect x="1271.47" y="361.1" width="6.1" height="5.5" fill="#e50000"/>
<path d="M1282.96 364.7V386.5" stroke="#e50000" stroke-width="0.75"/>
<rect x="1279.91" y="366.6" width="6.1" height="2.7" fill="#e50000"/>
<path d="M1291.40 348.9V371.3" stroke="#2a8754" stroke-width="0.75"/>
<rect x="1288.35" y="360.6" width="6.1" height="8.4" fill="#2a8754"/>
<path d="M1299.85 352.7V370.7" stroke="#2a8754" stroke-width="0.75"/>
<rect x="1296.80" y="358.8" width="6.1" height="1.4" fill="#2a8754"/>
<path d="M1308.29 343.6V359.5" stroke="#2a8754" stroke-width="0.75"/>
<rect x="1305.24" y="345.6" width="6.1" height="13.2" fill="#2a8754"/>
<path d="M1316.73 344.3V369.7" stroke="#e50000" stroke-width="0.75"/>
<rect x="1313.68" y="347.9" width="6.1" height="19.8" fill="#e50000"/>
<path d="M1325.17 365.6V386.8" stroke="#e50000" stroke-width="0.75"/>
<rect x="1322.12" y="365.6" width="6.1" height="19.5" fill="#e50000"/>
<path d="M1333.61 379.3V392.2" stroke="#2a8754" stroke-width="0.75"/>
<rect x="1330.56" y="382.0" width="6.1" height="1.8" fill="#2a8754"/>
<path d="M1342.06 382.9V386.0" stroke="#e50000" stroke-width="0.75"/>
<rect x="1339.01" y="384.0" width="6.1" height="1.8" fill="#e50000"/>
<path d="M1350.50 373.8V387.0" stroke="#2a8754" stroke-width="0.75"/>
<rect x="1347.45" y="379.5" width="6.1" height="4.9" fill="#2a8754"/>
<path d="M1358.94 371.5V383.8" stroke="#e50000" stroke-width="0.75"/>
<rect x="1355.89" y="377.6" width="6.1" height="3.0" fill="#e50000"/>
<path d="M1367.38 367.0V382.9" stroke="#2a8754" stroke-width="0.75"/>
<rect x="1364.33" y="369.7" width="6.1" height="10.0" fill="#2a8754"/>
<path d="M1375.82 355.1V370.7" stroke="#2a8754" stroke-width="0.75"/>
<rect x="1372.77" y="366.6" width="6.1" height="2.7" fill="#2a8754"/>
<path d="M1384.27 364.5V366.0" stroke="#e50000" stroke-width="0.75"/>
<rect x="1381.22" y="364.8" width="6.1" height="1.0" fill="#e50000"/>
<path d="M1392.71 356.0V372.6" stroke="#2a8754" stroke-width="0.75"/>
<rect x="1389.66" y="358.0" width="6.1" height="8.6" fill="#2a8754"/>
<path d="M1401.15 337.1V367.7" stroke="#e50000" stroke-width="0.75"/>
<rect x="1398.10" y="358.1" width="6.1" height="6.6" fill="#e50000"/>
<path d="M1409.59 349.2V372.1" stroke="#2a8754" stroke-width="0.75"/>
<rect x="1406.54" y="350.2" width="6.1" height="14.4" fill="#2a8754"/>
<path d="M1418.03 343.0V355.9" stroke="#2a8754" stroke-width="0.75"/>
<rect x="1414.98" y="343.2" width="6.1" height="7.9" fill="#2a8754"/>
<path d="M1426.48 331.6V346.6" stroke="#2a8754" stroke-width="0.75"/>
<rect x="1423.43" y="337.6" width="6.1" height="6.0" fill="#2a8754"/>
<path d="M1434.92 317.7V338.2" stroke="#2a8754" stroke-width="0.75"/>
<rect x="1431.87" y="324.5" width="6.1" height="13.1" fill="#2a8754"/>
<path d="M1443.36 318.2V346.9" stroke="#e50000" stroke-width="0.75"/>
<rect x="1440.31" y="322.2" width="6.1" height="13.5" fill="#e50000"/>
<path d="M1451.80 320.0V337.9" stroke="#2a8754" stroke-width="0.75"/>
<rect x="1448.75" y="321.8" width="6.1" height="14.9" fill="#2a8754"/>
<path d="M1460.24 318.2V334.2" stroke="#e50000" stroke-width="0.75"/>
<rect x="1457.19" y="322.2" width="6.1" height="5.3" fill="#e50000"/>
<path d="M1468.69 306.8V327.8" stroke="#2a8754" stroke-width="0.75"/>
<rect x="1465.64" y="313.2" width="6.1" height="13.5" fill="#2a8754"/>
<path d="M1477.13 307.5V323.2" stroke="#2a8754" stroke-width="0.75"/>
<rect x="1474.08" y="310.9" width="6.1" height="2.5" fill="#2a8754"/>
</g>
<path d="M1 310.7H1496" stroke="#2a8754" stroke-width="1" stroke-dasharray="1 1" opacity="0.45"/>
<path clip-path="url(#cr)" d="M-0.2 563.0 L8.2 575.1 L16.7 581.5 L25.1 587.2 L33.5 580.6 L42.0 593.4 L50.4 595.0 L58.9 581.9 L67.3 575.9 L75.8 585.2 L84.2 583.3 L92.6 595.0 L101.1 582.4 L109.5 589.8 L118.0 591.3 L126.4 580.6 L134.8 584.4 L143.3 583.6 L151.7 591.8 L160.2 603.7 L168.6 596.7 L177.1 596.7 L185.5 578.7 L193.9 577.5 L202.4 579.8 L210.8 580.0 L219.3 588.5 L227.7 597.5 L236.2 602.9 L244.6 609.4 L253.0 610.1 L261.5 618.2 L269.9 620.4 L278.4 614.6 L286.8 602.4 L295.2 605.3 L303.7 585.2 L312.1 586.4 L320.6 586.0 L329.0 583.3 L337.5 573.8 L345.9 565.3 L354.3 550.1 L362.8 561.5 L371.2 552.0 L379.7 558.6 L388.1 577.0 L396.6 589.3 L405.0 592.2 L413.4 583.3 L421.9 577.0 L430.3 551.7 L438.8 546.0 L447.2 528.0 L455.6 526.4 L464.1 562.6 L472.5 561.7 L481.0 561.2 L489.4 573.6 L497.9 576.5 L506.3 572.1 L514.7 566.1 L523.2 576.5 L531.6 582.4 L540.1 572.1 L548.5 580.0 L557.0 572.1 L565.4 569.2 L573.8 570.0 L582.3 559.4 L590.7 582.8 L599.2 565.6 L607.6 570.2 L616.0 571.3 L624.5 579.0 L632.9 579.3 L641.4 583.6 L649.8 565.6 L658.3 570.2 L666.7 566.4 L675.1 580.6 L683.6 587.8 L692.0 578.3 L700.5 575.7 L708.9 583.6 L717.3 581.5 L725.8 588.5 L734.2 604.0 L742.7 590.9 L751.1 580.6 L759.6 572.1 L768.0 581.5 L776.4 583.1 L784.9 564.4 L793.3 551.2 L801.8 558.6 L810.2 565.9 L818.7 568.9 L827.1 571.6 L835.5 566.9 L844.0 572.1 L852.4 560.7 L860.9 548.8 L869.3 542.4 L877.7 530.9 L886.2 549.2 L894.6 541.1 L903.1 547.9 L911.5 559.4 L920.0 567.6 L928.4 562.6 L936.8 560.7 L945.3 551.7 L953.7 554.1 L962.2 553.3 L970.6 553.0 L979.1 557.7 L987.5 561.0 L995.9 547.9 L1004.4 537.5 L1012.8 532.9 L1021.3 529.3 L1029.7 521.8 L1038.1 524.4 L1046.6 545.2 L1055.0 551.7 L1063.5 549.2 L1071.9 555.8 L1080.4 556.3 L1088.8 569.2 L1097.2 565.1 L1105.7 555.0 L1114.1 553.3 L1122.6 535.7 L1131.0 532.9 L1139.4 536.5 L1147.9 534.9 L1156.3 555.8 L1164.8 565.9 L1173.2 567.6 L1181.7 572.1 L1190.1 574.6 L1198.5 577.0 L1207.0 596.3 L1215.4 586.4 L1223.9 589.6 L1232.3 582.4 L1240.8 575.7 L1249.2 598.3 L1257.6 607.6 L1266.1 604.5 L1274.5 608.6 L1283.0 610.6 L1291.4 599.1 L1299.8 597.1 L1308.3 581.5 L1316.7 598.6 L1325.2 609.2 L1333.6 606.1 L1342.1 608.1 L1350.5 601.1 L1358.9 601.1 L1367.4 588.2 L1375.8 584.9 L1384.3 583.3 L1392.7 574.6 L1401.2 580.5 L1409.6 565.2 L1418.0 558.1 L1426.5 551.9 L1434.9 540.6 L1443.4 554.4 L1451.8 543.1 L1460.2 549.5 L1468.7 538.7 L1477.1 537.3" stroke="#7e57c2" stroke-width="1.4" fill="none" stroke-linejoin="round"/>
<path clip-path="url(#ca)" d="M1.0 640.2 L7.8 644.7 L16.6 650.0 L25.4 651.5 L34.2 653.5 L42.0 654.3 L50.8 653.5 L58.6 655.4 L66.4 658.8 L75.2 663.3 L84.0 667.7 L91.8 670.1 L100.6 673.0 L109.4 676.0 L117.2 677.5 L126.0 681.2 L134.8 684.7 L143.6 687.7 L151.4 688.6 L160.2 686.3 L168.0 684.3 L176.8 683.2 L185.5 684.3 L193.4 686.3 L203.1 689.0 L210.9 690.2 L219.7 691.8 L227.5 692.9 L235.4 693.5 L244.1 691.6 L252.9 689.8 L260.7 687.7 L269.5 683.8 L277.3 681.4 L285.2 680.8 L294.9 680.4 L305.6 684.3 L319.3 689.6 L333.0 692.9 L345.7 695.9 L354.5 694.9 L368.1 695.5 L377.9 697.0 L387.7 698.0 L399.4 696.5 L413.0 693.5 L422.8 694.5 L430.6 694.5 L438.4 692.5 L446.3 688.3 L455.0 683.8 L465.8 684.3 L480.4 685.3 L493.1 689.2 L506.8 693.1 L520.5 696.1 L534.1 698.4 L543.9 700.8 L555.6 703.3 L567.3 704.7 L575.2 704.3 L582.0 703.3 L591.7 704.3 L603.4 705.8 L616.1 707.4 L630.8 706.2 L641.5 704.7 L658.1 704.3 L665.9 703.9 L681.6 703.9 L693.3 702.3 L700.1 702.7 L716.7 705.6 L725.5 705.2 L734.3 700.8 L742.1 696.1 L751.9 695.5 L761.6 695.9 L767.5 696.5 L775.3 696.5 L785.1 698.4 L792.9 696.8 L801.7 695.5 L810.5 696.5 L826.1 700.0 L833.9 700.9 L843.7 702.3 L853.4 700.0 L861.3 697.4 L869.1 693.5 L885.6 683.2 L902.2 674.0 L911.0 672.4 L919.8 673.4 L936.4 678.3 L945.2 678.5 L961.8 677.3 L978.4 678.3 L987.2 679.9 L995.0 679.3 L1006.7 675.4 L1020.4 670.7 L1038.0 662.3 L1045.8 661.9 L1062.4 665.2 L1080.0 671.1 L1096.6 676.3 L1113.2 683.2 L1129.8 680.4 L1147.3 678.5 L1160.0 682.0 L1180.8 689.3 L1197.5 690.5 L1212.1 686.6 L1224.6 684.1 L1239.2 683.7 L1248.5 681.6 L1262.1 675.3 L1274.6 669.5 L1282.9 663.9 L1299.6 661.2 L1310.0 661.6 L1316.3 660.8 L1326.7 657.4 L1341.3 652.8 L1355.8 652.4 L1366.3 653.5 L1384.0 660.5 L1392.3 665.3 L1401.7 667.4 L1410.0 669.9 L1418.3 671.2 L1425.6 671.0 L1435.0 668.9 L1460.0 668.5 L1477.1 665.6" stroke="#ff4653" stroke-width="1.35" fill="none" stroke-linejoin="round"/>
<text x="1501.6" y="13.7" fill="#3a3e48" stroke="#3a3e48" stroke-width="0.25" font-size="9.8" text-anchor="start" font-weight="normal" textLength="26.3" lengthAdjust="spacingAndGlyphs" text-rendering="geometricPrecision">105.50</text>
<text x="1501.6" y="38.3" fill="#3a3e48" stroke="#3a3e48" stroke-width="0.25" font-size="9.8" text-anchor="start" font-weight="normal" textLength="26.3" lengthAdjust="spacingAndGlyphs" text-rendering="geometricPrecision">105.00</text>
<text x="1501.6" y="62.9" fill="#3a3e48" stroke="#3a3e48" stroke-width="0.25" font-size="9.8" text-anchor="start" font-weight="normal" textLength="26.3" lengthAdjust="spacingAndGlyphs" text-rendering="geometricPrecision">104.50</text>
<text x="1501.6" y="87.5" fill="#3a3e48" stroke="#3a3e48" stroke-width="0.25" font-size="9.8" text-anchor="start" font-weight="normal" textLength="26.3" lengthAdjust="spacingAndGlyphs" text-rendering="geometricPrecision">104.00</text>
<text x="1501.6" y="112.2" fill="#3a3e48" stroke="#3a3e48" stroke-width="0.25" font-size="9.8" text-anchor="start" font-weight="normal" textLength="26.3" lengthAdjust="spacingAndGlyphs" text-rendering="geometricPrecision">103.50</text>
<text x="1501.6" y="136.8" fill="#3a3e48" stroke="#3a3e48" stroke-width="0.25" font-size="9.8" text-anchor="start" font-weight="normal" textLength="26.3" lengthAdjust="spacingAndGlyphs" text-rendering="geometricPrecision">103.00</text>
<text x="1501.6" y="161.4" fill="#3a3e48" stroke="#3a3e48" stroke-width="0.25" font-size="9.8" text-anchor="start" font-weight="normal" textLength="26.3" lengthAdjust="spacingAndGlyphs" text-rendering="geometricPrecision">102.50</text>
<text x="1501.6" y="186.0" fill="#3a3e48" stroke="#3a3e48" stroke-width="0.25" font-size="9.8" text-anchor="start" font-weight="normal" textLength="26.3" lengthAdjust="spacingAndGlyphs" text-rendering="geometricPrecision">102.00</text>
<text x="1501.6" y="210.6" fill="#3a3e48" stroke="#3a3e48" stroke-width="0.25" font-size="9.8" text-anchor="start" font-weight="normal" textLength="26.3" lengthAdjust="spacingAndGlyphs" text-rendering="geometricPrecision">101.50</text>
<text x="1501.6" y="235.2" fill="#3a3e48" stroke="#3a3e48" stroke-width="0.25" font-size="9.8" text-anchor="start" font-weight="normal" textLength="26.3" lengthAdjust="spacingAndGlyphs" text-rendering="geometricPrecision">101.00</text>
<text x="1501.6" y="259.9" fill="#3a3e48" stroke="#3a3e48" stroke-width="0.25" font-size="9.8" text-anchor="start" font-weight="normal" textLength="26.3" lengthAdjust="spacingAndGlyphs" text-rendering="geometricPrecision">100.50</text>
<text x="1501.6" y="284.5" fill="#3a3e48" stroke="#3a3e48" stroke-width="0.25" font-size="9.8" text-anchor="start" font-weight="normal" textLength="26.3" lengthAdjust="spacingAndGlyphs" text-rendering="geometricPrecision">100.00</text>
<text x="1501.6" y="309.1" fill="#3a3e48" stroke="#3a3e48" stroke-width="0.25" font-size="9.8" text-anchor="start" font-weight="normal" textLength="21.5" lengthAdjust="spacingAndGlyphs" text-rendering="geometricPrecision">99.50</text>
<text x="1501.6" y="382.9" fill="#3a3e48" stroke="#3a3e48" stroke-width="0.25" font-size="9.8" text-anchor="start" font-weight="normal" textLength="21.5" lengthAdjust="spacingAndGlyphs" text-rendering="geometricPrecision">98.00</text>
<text x="1501.6" y="407.5" fill="#3a3e48" stroke="#3a3e48" stroke-width="0.25" font-size="9.8" text-anchor="start" font-weight="normal" textLength="21.5" lengthAdjust="spacingAndGlyphs" text-rendering="geometricPrecision">97.50</text>
<text x="1501.6" y="432.2" fill="#3a3e48" stroke="#3a3e48" stroke-width="0.25" font-size="9.8" text-anchor="start" font-weight="normal" textLength="21.5" lengthAdjust="spacingAndGlyphs" text-rendering="geometricPrecision">97.00</text>
<text x="1501.6" y="456.8" fill="#3a3e48" stroke="#3a3e48" stroke-width="0.25" font-size="9.8" text-anchor="start" font-weight="normal" textLength="21.5" lengthAdjust="spacingAndGlyphs" text-rendering="geometricPrecision">96.50</text>
<text x="1501.6" y="481.4" fill="#3a3e48" stroke="#3a3e48" stroke-width="0.25" font-size="9.8" text-anchor="start" font-weight="normal" textLength="21.5" lengthAdjust="spacingAndGlyphs" text-rendering="geometricPrecision">96.00</text>
<text x="1501.6" y="506.0" fill="#3a3e48" stroke="#3a3e48" stroke-width="0.25" font-size="9.8" text-anchor="start" font-weight="normal" textLength="21.5" lengthAdjust="spacingAndGlyphs" text-rendering="geometricPrecision">95.50</text>
<text x="1501.6" y="525.0" fill="#3a3e48" stroke="#3a3e48" stroke-width="0.25" font-size="9.8" text-anchor="start" font-weight="normal" textLength="21.5" lengthAdjust="spacingAndGlyphs" text-rendering="geometricPrecision">70.00</text>
<text x="1501.6" y="548.9" fill="#3a3e48" stroke="#3a3e48" stroke-width="0.25" font-size="9.8" text-anchor="start" font-weight="normal" textLength="21.5" lengthAdjust="spacingAndGlyphs" text-rendering="geometricPrecision">60.00</text>
<text x="1501.6" y="572.6" fill="#3a3e48" stroke="#3a3e48" stroke-width="0.25" font-size="9.8" text-anchor="start" font-weight="normal" textLength="21.5" lengthAdjust="spacingAndGlyphs" text-rendering="geometricPrecision">50.00</text>
<text x="1501.6" y="596.3" fill="#3a3e48" stroke="#3a3e48" stroke-width="0.25" font-size="9.8" text-anchor="start" font-weight="normal" textLength="21.5" lengthAdjust="spacingAndGlyphs" text-rendering="geometricPrecision">40.00</text>
<text x="1501.6" y="620.0" fill="#3a3e48" stroke="#3a3e48" stroke-width="0.25" font-size="9.8" text-anchor="start" font-weight="normal" textLength="21.5" lengthAdjust="spacingAndGlyphs" text-rendering="geometricPrecision">30.00</text>
<text x="1501.6" y="650.1" fill="#3a3e48" stroke="#3a3e48" stroke-width="0.25" font-size="9.8" text-anchor="start" font-weight="normal" textLength="21.5" lengthAdjust="spacingAndGlyphs" text-rendering="geometricPrecision">30.00</text>
<text x="1501.6" y="677.7" fill="#3a3e48" stroke="#3a3e48" stroke-width="0.25" font-size="9.8" text-anchor="start" font-weight="normal" textLength="21.5" lengthAdjust="spacingAndGlyphs" text-rendering="geometricPrecision">20.00</text>
<text x="1501.6" y="705.0" fill="#3a3e48" stroke="#3a3e48" stroke-width="0.25" font-size="9.8" text-anchor="start" font-weight="normal" textLength="21.5" lengthAdjust="spacingAndGlyphs" text-rendering="geometricPrecision">10.00</text>
<path d="M1496.0 305.6H1525.0Q1526.8 305.6 1526.8 307.40000000000003V314.59999999999997Q1526.8 316.4 1525.0 316.4H1496.0Z" fill="#2a8754"/>
<text x="1501.6" y="314.0" fill="#fff" stroke="#fff" stroke-width="0.25" font-size="8.7" text-anchor="start" font-weight="normal" textLength="21.4" lengthAdjust="spacingAndGlyphs">99.41</text>
<path d="M1496.0 323.8H1525.0Q1526.8 323.8 1526.8 325.6V332.8Q1526.8 334.6 1525.0 334.6H1496.0Z" fill="#2962ff"/>
<text x="1501.6" y="332.2" fill="#fff" stroke="#fff" stroke-width="0.25" font-size="8.7" text-anchor="start" font-weight="normal" textLength="21.4" lengthAdjust="spacingAndGlyphs">99.04</text>
<path d="M1496.0 339.6H1525.0Q1526.8 339.6 1526.8 341.40000000000003V348.8Q1526.8 350.6 1525.0 350.6H1496.0Z" fill="#ff9800"/>
<text x="1501.6" y="348.1" fill="#131722" stroke="#131722" stroke-width="0.25" font-size="8.7" text-anchor="start" font-weight="normal" textLength="21.4" lengthAdjust="spacingAndGlyphs">98.72</text>
<path d="M1496.0 350.6H1525.0Q1526.8 350.6 1526.8 352.40000000000003V359.59999999999997Q1526.8 361.4 1525.0 361.4H1496.0Z" fill="#f23645"/>
<text x="1501.6" y="359.0" fill="#fff" stroke="#fff" stroke-width="0.25" font-size="8.7" text-anchor="start" font-weight="normal" textLength="21.4" lengthAdjust="spacingAndGlyphs">98.68</text>
<path d="M1496.0 531.4H1525.0Q1526.8 531.4 1526.8 533.1999999999999V540.5Q1526.8 542.3 1525.0 542.3H1496.0Z" fill="#7e57c2"/>
<text x="1501.6" y="539.8" fill="#fff" stroke="#fff" stroke-width="0.25" font-size="8.7" text-anchor="start" font-weight="normal" textLength="21.4" lengthAdjust="spacingAndGlyphs">63.76</text>
<path d="M1496.0 659.8H1525.0Q1526.8 659.8 1526.8 661.5999999999999V668.8000000000001Q1526.8 670.6 1525.0 670.6H1496.0Z" fill="#ff4653"/>
<text x="1501.6" y="668.2" fill="#fff" stroke="#fff" stroke-width="0.25" font-size="8.7" text-anchor="start" font-weight="normal" textLength="21.4" lengthAdjust="spacingAndGlyphs">23.55</text>
<text x="25.1" y="727.3" fill="#3a3e48" stroke="#3a3e48" stroke-width="0.25" font-size="9.6" text-anchor="middle" font-weight="normal" textLength="9.7" lengthAdjust="spacingAndGlyphs" text-rendering="geometricPrecision">21</text>
<text x="92.6" y="727.3" fill="#3a3e48" stroke="#3a3e48" stroke-width="0.25" font-size="9.6" text-anchor="middle" font-weight="normal" textLength="14.0" lengthAdjust="spacingAndGlyphs" text-rendering="geometricPrecision">Jun</text>
<text x="151.7" y="727.3" fill="#3a3e48" stroke="#3a3e48" stroke-width="0.25" font-size="9.6" text-anchor="middle" font-weight="normal" textLength="9.0" lengthAdjust="spacingAndGlyphs" text-rendering="geometricPrecision">11</text>
<text x="210.8" y="727.3" fill="#3a3e48" stroke="#3a3e48" stroke-width="0.25" font-size="9.6" text-anchor="middle" font-weight="normal" textLength="9.7" lengthAdjust="spacingAndGlyphs" text-rendering="geometricPrecision">20</text>
<text x="269.9" y="727.3" fill="#3a3e48" stroke="#3a3e48" stroke-width="0.25" font-size="9.6" text-anchor="middle" font-weight="normal" textLength="11.1" lengthAdjust="spacingAndGlyphs" text-rendering="geometricPrecision">Jul</text>
<text x="329.0" y="727.3" fill="#3a3e48" stroke="#3a3e48" stroke-width="0.25" font-size="9.6" text-anchor="middle" font-weight="normal" textLength="9.7" lengthAdjust="spacingAndGlyphs" text-rendering="geometricPrecision">10</text>
<text x="388.1" y="727.3" fill="#3a3e48" stroke="#3a3e48" stroke-width="0.25" font-size="9.6" text-anchor="middle" font-weight="normal" textLength="9.7" lengthAdjust="spacingAndGlyphs" text-rendering="geometricPrecision">21</text>
<text x="464.1" y="727.3" fill="#3a3e48" stroke="#3a3e48" stroke-width="0.25" font-size="9.6" text-anchor="middle" font-weight="normal" textLength="15.5" lengthAdjust="spacingAndGlyphs" text-rendering="geometricPrecision">Aug</text>
<text x="523.2" y="727.3" fill="#3a3e48" stroke="#3a3e48" stroke-width="0.25" font-size="9.6" text-anchor="middle" font-weight="normal" textLength="9.7" lengthAdjust="spacingAndGlyphs" text-rendering="geometricPrecision">12</text>
<text x="582.3" y="727.3" fill="#3a3e48" stroke="#3a3e48" stroke-width="0.25" font-size="9.6" text-anchor="middle" font-weight="normal" textLength="9.7" lengthAdjust="spacingAndGlyphs" text-rendering="geometricPrecision">21</text>
<text x="641.4" y="727.3" fill="#3a3e48" stroke="#3a3e48" stroke-width="0.25" font-size="9.6" text-anchor="middle" font-weight="normal" textLength="15.5" lengthAdjust="spacingAndGlyphs" text-rendering="geometricPrecision">Sep</text>
<text x="700.5" y="727.3" fill="#3a3e48" stroke="#3a3e48" stroke-width="0.25" font-size="9.6" text-anchor="middle" font-weight="normal" textLength="9.7" lengthAdjust="spacingAndGlyphs" text-rendering="geometricPrecision">10</text>
<text x="759.6" y="727.3" fill="#3a3e48" stroke="#3a3e48" stroke-width="0.25" font-size="9.6" text-anchor="middle" font-weight="normal" textLength="9.7" lengthAdjust="spacingAndGlyphs" text-rendering="geometricPrecision">19</text>
<text x="827.1" y="727.3" fill="#3a3e48" stroke="#3a3e48" stroke-width="0.25" font-size="9.6" text-anchor="middle" font-weight="normal" textLength="13.5" lengthAdjust="spacingAndGlyphs" text-rendering="geometricPrecision">Oct</text>
<text x="886.2" y="727.3" fill="#3a3e48" stroke="#3a3e48" stroke-width="0.25" font-size="9.6" text-anchor="middle" font-weight="normal" textLength="9.7" lengthAdjust="spacingAndGlyphs" text-rendering="geometricPrecision">10</text>
<text x="945.3" y="727.3" fill="#3a3e48" stroke="#3a3e48" stroke-width="0.25" font-size="9.6" text-anchor="middle" font-weight="normal" textLength="9.7" lengthAdjust="spacingAndGlyphs" text-rendering="geometricPrecision">21</text>
<text x="1021.3" y="727.3" fill="#3a3e48" stroke="#3a3e48" stroke-width="0.25" font-size="9.6" text-anchor="middle" font-weight="normal" textLength="15.5" lengthAdjust="spacingAndGlyphs" text-rendering="geometricPrecision">Nov</text>
<text x="1080.4" y="727.3" fill="#3a3e48" stroke="#3a3e48" stroke-width="0.25" font-size="9.6" text-anchor="middle" font-weight="normal" textLength="9.7" lengthAdjust="spacingAndGlyphs" text-rendering="geometricPrecision">12</text>
<text x="1190.1" y="727.3" fill="#3a3e48" stroke="#3a3e48" stroke-width="0.25" font-size="9.6" text-anchor="middle" font-weight="normal" textLength="15.5" lengthAdjust="spacingAndGlyphs" text-rendering="geometricPrecision">Dec</text>
<text x="1249.2" y="727.3" fill="#3a3e48" stroke="#3a3e48" stroke-width="0.25" font-size="9.6" text-anchor="middle" font-weight="normal" textLength="9.7" lengthAdjust="spacingAndGlyphs" text-rendering="geometricPrecision">10</text>
<text x="1308.3" y="727.3" fill="#3a3e48" stroke="#3a3e48" stroke-width="0.25" font-size="9.6" text-anchor="middle" font-weight="normal" textLength="9.7" lengthAdjust="spacingAndGlyphs" text-rendering="geometricPrecision">19</text>
<text x="1384.3" y="727.3" fill="#3a3e48" stroke="#3a3e48" stroke-width="0.25" font-size="9.6" text-anchor="middle" font-weight="bold" textLength="20.1" lengthAdjust="spacingAndGlyphs" text-rendering="geometricPrecision">2026</text>
<text x="1443.4" y="727.3" fill="#3a3e48" stroke="#3a3e48" stroke-width="0.25" font-size="9.6" text-anchor="middle" font-weight="normal" textLength="9.7" lengthAdjust="spacingAndGlyphs" text-rendering="geometricPrecision">12</text>
<text x="5.9" y="13.8" fill="#363a45" stroke="#363a45" stroke-width="0.25" font-size="8.7" text-anchor="start" font-weight="normal" textLength="77" lengthAdjust="spacingAndGlyphs">Dollar Index Spot, 1D</text>
<text x="87.6" y="13.8" fill="#363a45" stroke="#363a45" stroke-width="0.25" font-size="8.7" text-anchor="start" font-weight="normal" >O</text>
<text x="93.6" y="13.8" fill="#2a8754" stroke="#2a8754" stroke-width="0.25" font-size="8.7" text-anchor="start" font-weight="normal" >99.36</text>
<text x="119.6" y="13.8" fill="#363a45" stroke="#363a45" stroke-width="0.25" font-size="8.7" text-anchor="start" font-weight="normal" >H</text>
<text x="125.2" y="13.8" fill="#2a8754" stroke="#2a8754" stroke-width="0.25" font-size="8.7" text-anchor="start" font-weight="normal" >99.48</text>
<text x="151.6" y="13.8" fill="#363a45" stroke="#363a45" stroke-width="0.25" font-size="8.7" text-anchor="start" font-weight="normal" >L</text>
<text x="156.4" y="13.8" fill="#2a8754" stroke="#2a8754" stroke-width="0.25" font-size="8.7" text-anchor="start" font-weight="normal" >99.16</text>
<text x="181.4" y="13.8" fill="#363a45" stroke="#363a45" stroke-width="0.25" font-size="8.7" text-anchor="start" font-weight="normal" >C</text>
<text x="186.6" y="13.8" fill="#2a8754" stroke="#2a8754" stroke-width="0.25" font-size="8.7" text-anchor="start" font-weight="normal" >99.41</text>
<text x="211.9" y="13.8" fill="#2a8754" stroke="#2a8754" stroke-width="0.25" font-size="8.7" text-anchor="start" font-weight="normal" textLength="58.2" lengthAdjust="spacingAndGlyphs">+0.06 (+0.06%)</text>
<text x="5.9" y="25.0" fill="#363a45" stroke="#363a45" stroke-width="0.25" font-size="8.7" text-anchor="start" font-weight="normal" textLength="66.8" lengthAdjust="spacingAndGlyphs">MA (100, close, 0)</text>
<text x="77.7" y="25.0" fill="#f23645" stroke="#f23645" stroke-width="0.25" font-size="8.7" text-anchor="start" font-weight="normal" >98.68</text>
<text x="5.9" y="36.2" fill="#363a45" stroke="#363a45" stroke-width="0.25" font-size="8.7" text-anchor="start" font-weight="normal" textLength="62.5" lengthAdjust="spacingAndGlyphs">MA (55, close, 0)</text>
<text x="73.8" y="36.2" fill="#2962ff" stroke="#2962ff" stroke-width="0.25" font-size="8.7" text-anchor="start" font-weight="normal" >99.04</text>
<text x="5.9" y="47.4" fill="#363a45" stroke="#363a45" stroke-width="0.25" font-size="8.7" text-anchor="start" font-weight="normal" textLength="66.8" lengthAdjust="spacingAndGlyphs">MA (200, close, 0)</text>
<text x="78.7" y="47.4" fill="#ff9800" stroke="#ff9800" stroke-width="0.25" font-size="8.7" text-anchor="start" font-weight="normal" >98.72</text>
<text x="5.7" y="523.2" fill="#363a45" stroke="#363a45" stroke-width="0.25" font-size="8.7" text-anchor="start" font-weight="normal" textLength="28.6" lengthAdjust="spacingAndGlyphs">RSI (14)</text>
<text x="39.7" y="523.2" fill="#7e57c2" stroke="#7e57c2" stroke-width="0.25" font-size="8.7" text-anchor="start" font-weight="normal" >63.76</text>
<text x="6.4" y="644.9" fill="#363a45" stroke="#363a45" stroke-width="0.25" font-size="8.7" text-anchor="start" font-weight="normal" textLength="44.8" lengthAdjust="spacingAndGlyphs">ADX (14, 14)</text>
<text x="56.6" y="644.9" fill="#ff4653" stroke="#ff4653" stroke-width="0.25" font-size="8.7" text-anchor="start" font-weight="normal" >23.55</text>
</svg></body></html>
